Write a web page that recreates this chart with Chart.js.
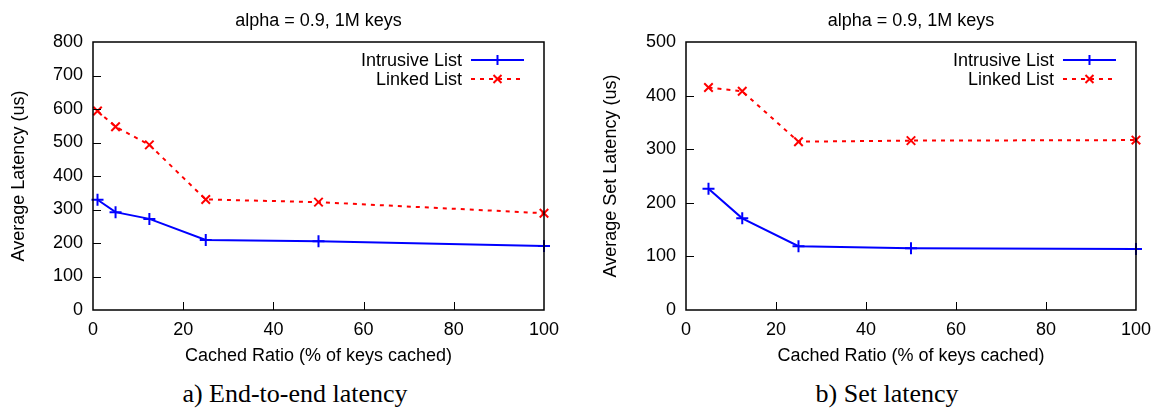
<!DOCTYPE html>
<html>
<head>
<meta charset="utf-8">
<script src="https://cdn.jsdelivr.net/npm/chart.js@4.4.1/dist/chart.umd.min.js"></script>
<style>
    body { margin: 0; background: #fff; }
    #wrap { position: relative; width: 1160px; height: 411px; }
    .panel { position: absolute; top: 0; width: 580px; height: 372px; }
    .caption { position: absolute; top: 379px; font-family: "Liberation Serif", "Times New Roman", serif; font-size: 26px; color: #000; white-space: nowrap; transform: translateX(-50%); }
</style>
</head>
<body>
<div id="wrap">
    <div class="panel" style="left:0"><canvas id="chartA" width="580" height="372"></canvas></div>
    <div class="panel" style="left:580px"><canvas id="chartB" width="580" height="372"></canvas></div>
    <div class="caption" style="left:295px">a) End-to-end latency</div>
    <div class="caption" style="left:887px">b) Set latency</div>
</div>
<script>
// Datos
const seriesNames = ['Intrusive List', 'Linked List'];
const plotTitle = 'alpha = 0.9, 1M keys';
const xTitle = 'Cached Ratio (% of keys cached)';
const xTicks = [0, 20, 40, 60, 80, 100];

// a) End-to-end latency
const cachedA = [1, 5, 12.5, 25, 50, 100];
const intrusiveA = [329, 292, 272, 209, 205, 191];
const linkedA = [594, 547, 493, 330, 322, 289];
const yTicksA = [0, 100, 200, 300, 400, 500, 600, 700, 800];

// b) Set latency
const cachedB = [5, 12.5, 25, 50, 100];
const intrusiveB = [226, 171, 119, 115, 114];
const linkedB = [415, 408, 314, 316, 317];
const yTicksB = [0, 100, 200, 300, 400, 500];

const FONT = '"Liberation Sans", Arial, Helvetica, sans-serif';

// Marco, ticks interiores, titulo y leyenda al estilo gnuplot
const gnuplotPlugin = {
    id: 'gnuplotStyle',
    afterDatasetsDraw(chart) {
        const ctx = chart.ctx;
        const a = chart.chartArea;
        const xs = chart.scales.x, ys = chart.scales.y;
        ctx.save();
        ctx.strokeStyle = '#000';
        ctx.lineWidth = 1.5;
        ctx.strokeRect(a.left, a.top, a.right - a.left, a.bottom - a.top);
        ctx.lineWidth = 1;
        xs.ticks.forEach(t => {
            if (t.value <= xs.min || t.value >= xs.max) return;
            const px = Math.round(xs.getPixelForValue(t.value)) + 0.5;
            ctx.beginPath(); ctx.moveTo(px, a.bottom); ctx.lineTo(px, a.bottom - 8); ctx.stroke();
        });
        ys.ticks.forEach(t => {
            if (t.value <= ys.min || t.value >= ys.max) return;
            const py = Math.round(ys.getPixelForValue(t.value)) + 0.5;
            ctx.beginPath(); ctx.moveTo(a.left, py); ctx.lineTo(a.left + 8, py); ctx.stroke();
        });

        // titulo centrado sobre el area del grafico
        ctx.fillStyle = '#000';
        ctx.font = '18px ' + FONT;
        ctx.textAlign = 'center';
        ctx.textBaseline = 'alphabetic';
        ctx.fillText(plotTitle, (a.left + a.right) / 2, 26);

        // leyenda: texto a la derecha, muestra de linea a la derecha
        const lineEnd = a.right - 20, lineStart = lineEnd - 53;
        chart.data.datasets.forEach((ds, i) => {
            const y = 60 + i * 19;
            ctx.textAlign = 'right';
            ctx.textBaseline = 'middle';
            ctx.fillStyle = '#000';
            ctx.fillText(ds.label, lineStart - 9, y + 1);
            ctx.strokeStyle = ds.borderColor;
            ctx.lineWidth = ds.borderWidth;
            ctx.setLineDash(ds.borderDash || []);
            ctx.beginPath(); ctx.moveTo(lineStart, y); ctx.lineTo(lineEnd, y); ctx.stroke();
            ctx.setLineDash([]);
            const cx = (lineStart + lineEnd) / 2, r = 5;
            ctx.lineWidth = 2;
            ctx.beginPath();
            if (ds.pointStyle === 'cross') {
                ctx.moveTo(cx - r, y); ctx.lineTo(cx + r, y);
                ctx.moveTo(cx, y - r); ctx.lineTo(cx, y + r);
            } else {
                ctx.moveTo(cx - 4, y - 4); ctx.lineTo(cx + 4, y + 4);
                ctx.moveTo(cx - 4, y + 4); ctx.lineTo(cx + 4, y - 4);
            }
            ctx.stroke();
        });
        ctx.restore();
    }
};

function makeChart(canvasId, xs, intr, linked, yTicks, yTitle, yTitlePad, rightPad) {
    const ctx = document.getElementById(canvasId).getContext('2d');
    return new Chart(ctx, {
        type: 'line',
        data: {
            datasets: [{
                label: seriesNames[0],
                data: xs.map((x, i) => ({ x: x, y: intr[i] })),
                borderColor: '#0000ff',
                backgroundColor: '#0000ff',
                borderWidth: 2,
                pointStyle: 'cross',
                pointRadius: 6,
                pointBorderWidth: 2,
                tension: 0
            }, {
                label: seriesNames[1],
                data: xs.map((x, i) => ({ x: x, y: linked[i] })),
                borderColor: '#ff0000',
                backgroundColor: '#ff0000',
                borderWidth: 2,
                borderDash: [4, 5],
                pointStyle: 'crossRot',
                pointRadius: 6,
                pointBorderWidth: 2,
                tension: 0
            }]
        },
        options: {
            responsive: false,
            animation: false,
            clip: false,
            layout: { padding: { top: 42, right: rightPad, left: 0, bottom: 0 } },
            plugins: { legend: { display: false }, title: { display: false }, tooltip: { enabled: false } },
            scales: {
                x: {
                    type: 'linear',
                    min: xTicks[0], max: xTicks[xTicks.length - 1],
                    afterBuildTicks: s => { s.ticks = xTicks.map(v => ({ value: v })); },
                    afterFit: s => { s.height = 62; },
                    grid: { display: true, drawOnChartArea: false, drawTicks: false },
                    border: { display: false },
                    ticks: { color: '#000', font: { family: FONT, size: 18 }, padding: 9, maxRotation: 0 },
                    title: { display: true, text: xTitle, color: '#000', font: { family: FONT, size: 18 }, padding: { top: 0, bottom: 5 } }
                },
                y: {
                    type: 'linear',
                    min: yTicks[0], max: yTicks[yTicks.length - 1],
                    afterBuildTicks: s => { s.ticks = yTicks.map(v => ({ value: v })); },
                    afterFit: s => { s.width = canvasId === 'chartA' ? 93 : 106; },
                    grid: { display: true, drawOnChartArea: false, drawTicks: false },
                    border: { display: false },
                    ticks: { color: '#000', font: { family: FONT, size: 18 }, padding: 10 },
                    title: { display: true, text: yTitle, color: '#000', font: { family: FONT, size: 18 }, padding: { top: yTitlePad - 1, bottom: 0 } }
                }
            }
        },
        plugins: [gnuplotPlugin]
    });
}

const chartA = makeChart('chartA', cachedA, intrusiveA, linkedA, yTicksA, 'Average Latency (us)', 9, 36);
const chartB = makeChart('chartB', cachedB, intrusiveB, linkedB, yTicksB, 'Average Set Latency (us)', 21, 21);
</script>
</body>
</html>
